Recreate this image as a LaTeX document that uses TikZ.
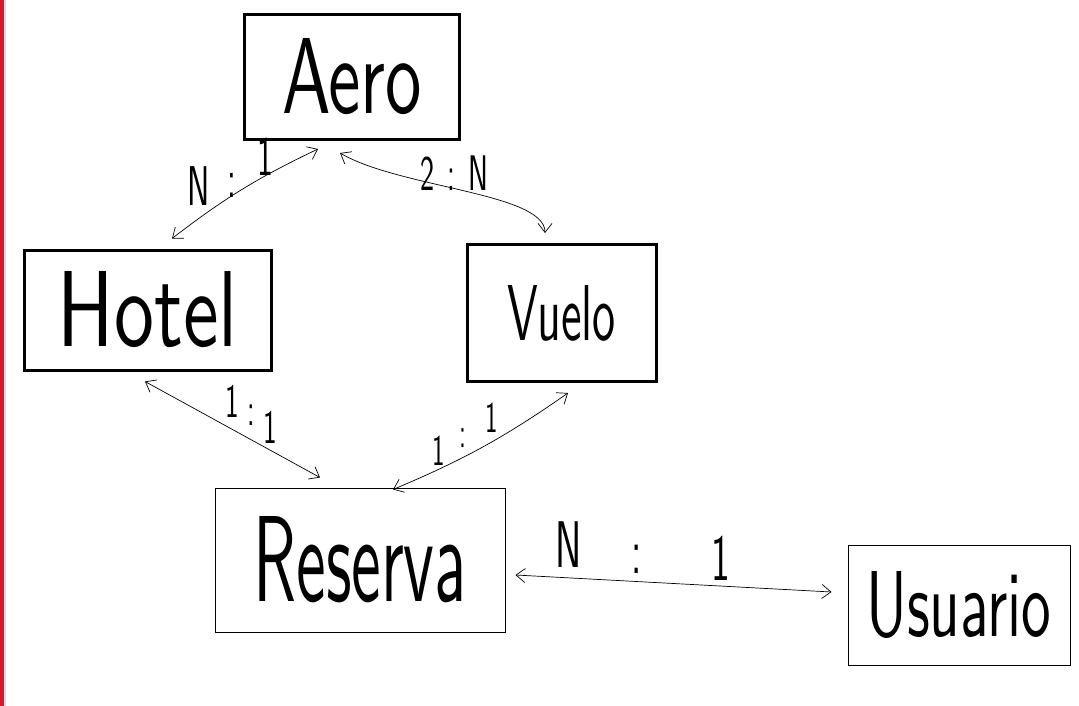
\documentclass[tikz,border=0pt]{standalone}
\usepackage{fontspec}
\usepackage{graphicx}
\usetikzlibrary{arrows.meta}
\definecolor{sideRed}{RGB}{218,22,44}
\definecolor{sideBlue}{RGB}{205,218,238}
\tikzset{
  entity/.style={draw, line width=3pt, inner sep=0pt},
  thinbox/.style={draw, line width=1pt, inner sep=0pt},
  link/.style={<->, line width=0.7pt, >={Straight Barb[length=9pt,width=14pt]}},
  card/.style={font=\sffamily\fontsize{#1}{#1}\selectfont, inner sep=0pt, anchor=base west},
  card/.default=50,
}
\newcommand{\word}[3]{\resizebox{#1pt}{#2pt}{\sffamily #3}}
\newcommand{\narrow}[1]{\scalebox{0.6}[1]{#1}}
\begin{document}
\begin{tikzpicture}[x=1pt, y=-1pt]
\useasboundingbox (0,0) rectangle (1079,706);
\fill[sideRed] (0,0) rectangle (4,706);
\fill[sideBlue] (4,0) rectangle (6,706);

% entities
\node[entity, minimum width=215pt, minimum height=125pt] (aero) at (352,77) {\word{140}{75}{Aero}};
\node[entity, minimum width=247pt, minimum height=120pt] (hotel) at (148,310) {\word{180}{75}{Hotel}};
\node[entity, minimum width=189pt, minimum height=137pt] (vuelo) at (562,313) {\word{108}{55}{Vuelo}};
\node[thinbox, minimum width=290pt, minimum height=144pt] (reserva) at (360,560) {\word{213}{85}{Reserva}};
\node[thinbox, minimum width=222pt, minimum height=120pt] (usuario) at (959,605) {\word{185}{65}{Usuario}};

% relations
\draw[link] ([shift={(24,-10)}]hotel.north) to[bend left=6] ([shift={(-34,8)}]aero.south);
\draw[link] ([shift={(-12,12)}]aero.south) .. controls +(60,35) and +(0,-40) .. ([shift={(-17,-10)}]vuelo.north);
\draw[link] ([shift={(-3,10)}]hotel.south) -- ([shift={(-40,-10)}]reserva.north);
\draw[link] ([shift={(6,10)}]vuelo.south) to[bend left=6] ([shift={(33,2)}]reserva.north);
\draw[link] ([shift={(10,15)}]reserva.east) -- ([shift={(-16,-13)}]usuario.west);

% cardinalities
\node[card=56] (cardAH) at (187,205) {\narrow{N\hspace{30pt}\raisebox{8pt}{:}\hspace{35pt}\raisebox{30pt}{1}}};
\node[card=50] (cardAV) at (420,190) {\narrow{2\hspace{22pt}:\hspace{22pt}N}};
\node[card=48] (cardHR) at (225,417) {\narrow{1\hspace{14pt}\raisebox{-8pt}{:}\hspace{14pt}\raisebox{-26pt}{1}}};
\node[card=44] (cardVR) at (432,465) {\narrow{1\hspace{25pt}\raisebox{18pt}{:}\hspace{32pt}\raisebox{33pt}{1}}};
\node[card=66] (cardRU) at (555,567) {\narrow{N\hspace{83pt}\raisebox{-6pt}{:}\hspace{117pt}\raisebox{-13pt}{1}}};
\end{tikzpicture}
\end{document}
